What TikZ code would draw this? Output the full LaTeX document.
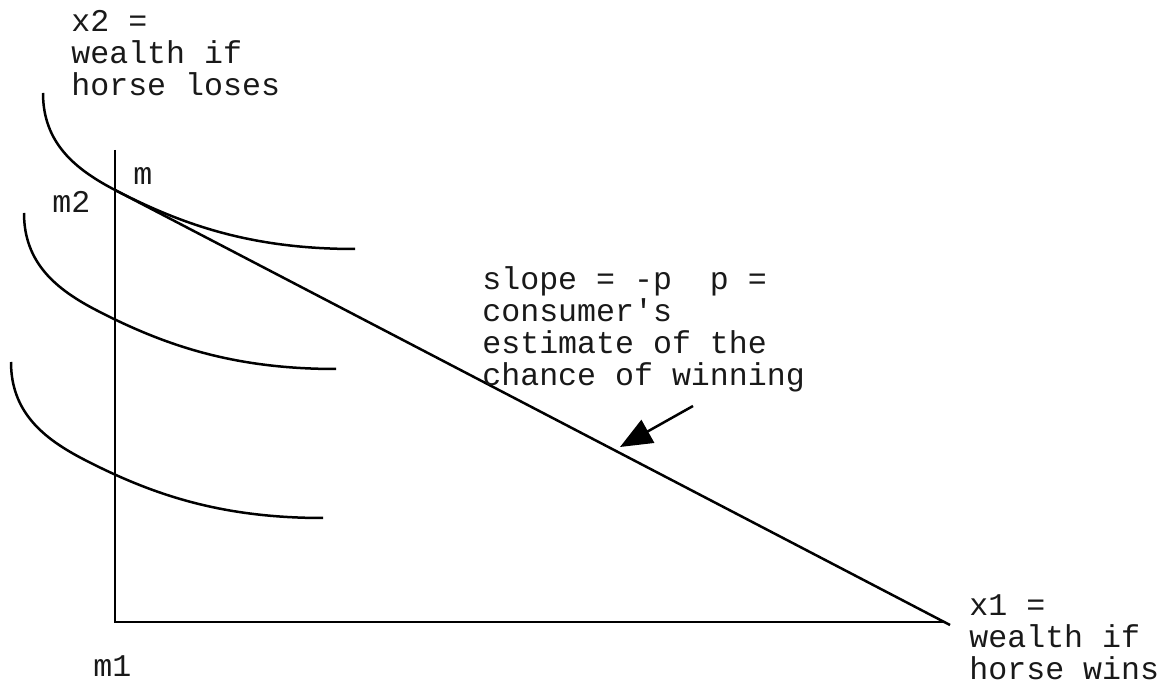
\documentclass[tikz,border=0pt]{standalone}
\usepackage{fontspec}
\setmonofont{Liberation Mono}
\usetikzlibrary{arrows.meta, positioning}

\begin{document}
\begin{tikzpicture}[x=0.5pt, y=0.5pt, >={Triangle[length=16pt,width=13pt]}]
        \tikzstyle{axis_style} = [line width=1.3pt]
        \tikzstyle{curve_style} = [line width=1.25pt]
        \tikzstyle{label_style} = [font=\ttfamily\fontsize{15.8}{16}\selectfont, align=left, inner sep=0pt, anchor=base west, text=black!90]

        \useasboundingbox (0,0) rectangle (1171,685);

        % Axes
        \coordinate (origin) at (115,63);
        \coordinate (ytop) at (115,535);
        \coordinate (xend) at (945,63);
        \draw [axis_style] (ytop) -- (origin) -- (xend);

        % Budget line
        \coordinate (endow) at (115,495);
        \coordinate (xint) at (950,60);
        \draw [curve_style] (endow) -- (xint);

        % Indifference curves (same curve, shifted)
        \foreach \dx/\dy in {0/0, -19/-120, -32/-269}
            \draw [curve_style, shift={(\dx,\dy)}] (43,592) .. controls (43,542) and (75.1,515.8) .. (115,495)
                .. controls (186,458.2) and (255,436) .. (355,436);

        % Arrow to the budget line
        \coordinate (arrtail) at (693,279);
        \coordinate (arrtip) at (620,238);
        \draw [->, curve_style] (arrtail) -- (arrtip);

        % Labels (base = last line)
        \node (ylab) [label_style] at (71,589) {x2 =\\wealth if\\horse loses};
        \node (mlab) [label_style] at (133,500) {m};
        \node (m2lab) [label_style] at (52,472) {m2};
        \node (slopelab) [label_style] at (482,299) {slope = -p\ \ p =\\consumer's\\estimate of the\\chance of winning};
        \node (xlab) [label_style] at (969,6) {x1 =\\wealth if\\horse wins};
        \node (m1lab) [label_style] at (93,9) {m1};
    \end{tikzpicture}
\end{document}
